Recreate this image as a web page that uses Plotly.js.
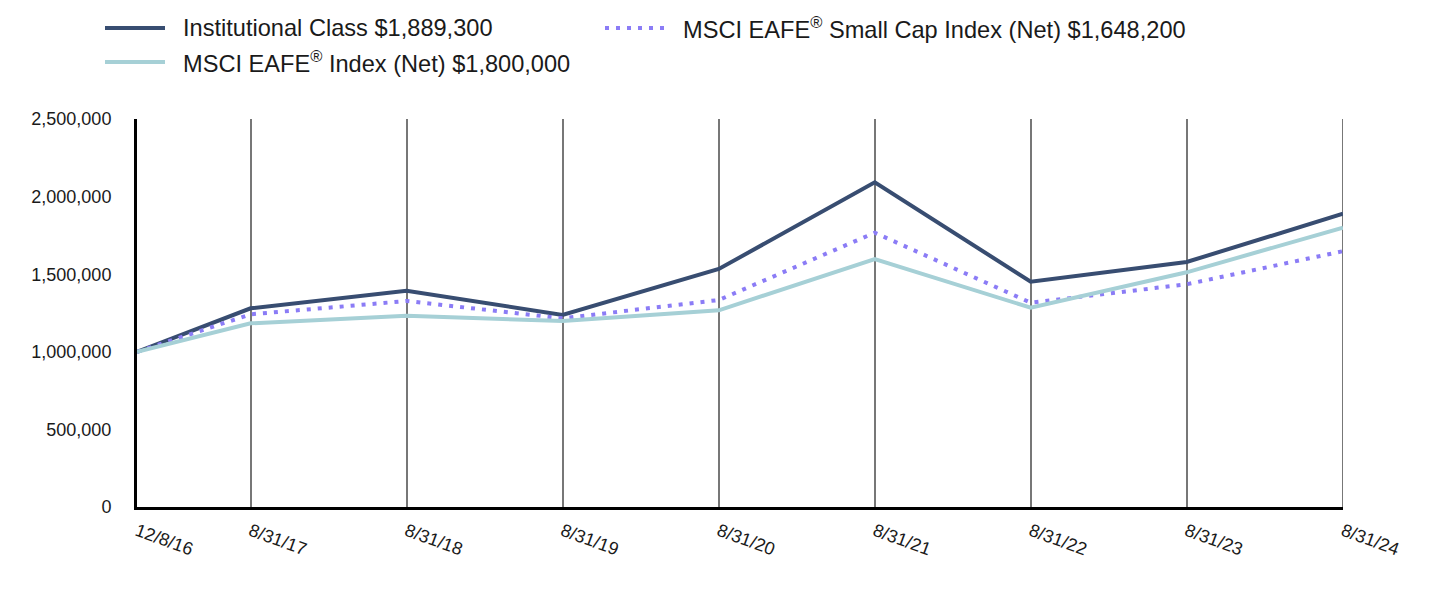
<!DOCTYPE html>
<html>
<head>
<meta charset="utf-8">
<script src="https://cdn.plot.ly/plotly-3.0.1.min.js"></script>
<style>html,body{margin:0;padding:0;background:#fff;}#chart{width:1432px;height:596px;}</style>
</head>
<body>
<div id="chart"></div>
<script>
var dates = ['2016-12-08','2017-08-31','2018-08-31','2019-08-31','2020-08-31','2021-08-31','2022-08-31','2023-08-31','2024-08-31'];
var tickLabels = ['12/8/16','8/31/17','8/31/18','8/31/19','8/31/20','8/31/21','8/31/22','8/31/23','8/31/24'];
var institutional = [1000000,1280300,1393700,1237100,1533500,2092100,1451700,1578600,1889300];
var smallCapIndex = [1000000,1241600,1327300,1215800,1333800,1767400,1316400,1434900,1648200];
var eafeIndex = [1000000,1183600,1232600,1198500,1267400,1597900,1284200,1512200,1800000];
var seriesNames = ['Institutional Class $1,889,300','MSCI EAFE<sup>®</sup> Small Cap Index (Net) $1,648,200','MSCI EAFE<sup>®</sup> Index (Net) $1,800,000'];
var seriesColors = ['#384d71','#8b7cf6','#a6d0d6'];
var seriesDash = ['solid','4px,7px','solid'];
var yTicks = [0,500000,1000000,1500000,2000000,2500000];

var FONT = 'Liberation Sans, Arial, sans-serif';
var W = 1432, H = 596, M = {l: 137, r: 89, t: 119, b: 89};
var PW = W - M.l - M.r, PH = H - M.t - M.b;
function px2x(px) { return (px - M.l) / PW; }
function py2y(py) { return (H - M.b - py) / PH; }

var seriesValues = [institutional, smallCapIndex, eafeIndex];
var traces = seriesValues.map(function (vals, i) {
  return {x: dates, y: vals, name: seriesNames[i], type: 'scatter', mode: 'lines',
    line: {color: seriesColors[i], width: 4, dash: seriesDash[i]}, showlegend: false};
});

// manual legend: [series index, line start px, row centre px]
var legendSlots = [[0, 105, 28], [1, 605, 28], [2, 105, 62]];
var shapes = [];
var annotations = [];
legendSlots.forEach(function (s) {
  var i = s[0], lx = s[1], ly = s[2];
  shapes.push({type: 'line', xref: 'paper', yref: 'paper',
    x0: px2x(lx), x1: px2x(lx + 60), y0: py2y(ly), y1: py2y(ly),
    line: {color: seriesColors[i], width: 4, dash: seriesDash[i]}});
  annotations.push({xref: 'paper', yref: 'paper', x: px2x(lx + 76), y: py2y(ly),
    xanchor: 'left', yanchor: 'middle', showarrow: false, text: seriesNames[i],
    font: {family: FONT, size: 23.6, color: '#1a1a1a'}});
});
// closing gridline at the last date
shapes.push({type: 'line', xref: 'x', yref: 'paper', x0: dates[dates.length-1], x1: dates[dates.length-1],
  y0: 0, y1: 1, line: {color: '#777', width: 2}, layer: 'below'});

var layout = {
  width: W, height: H,
  margin: M,
  paper_bgcolor: '#fff', plot_bgcolor: '#fff',
  font: {family: FONT, color: '#1a1a1a'},
  showlegend: false,
  shapes: shapes,
  annotations: annotations,
  xaxis: {
    type: 'date', range: [dates[0], dates[dates.length-1]],
    tickmode: 'array', tickvals: dates, ticktext: tickLabels,
    tickangle: 20, tickfont: {family: FONT, size: 18, color: '#1a1a1a'},
    showgrid: true, gridcolor: '#777', gridwidth: 2,
    showline: true, linecolor: '#000', linewidth: 3,
    ticks: '', ticklabelstandoff: 4, zeroline: false, fixedrange: true
  },
  yaxis: {
    range: [0, 2500000], tickmode: 'array', tickvals: yTicks, tickformat: ',d',
    tickfont: {family: FONT, size: 18, color: '#1a1a1a'},
    showgrid: false, showline: true, linecolor: '#000', linewidth: 3,
    ticks: '', ticklabelstandoff: 19, zeroline: false, fixedrange: true
  }
};

Plotly.newPlot('chart', traces, layout, {displayModeBar: false, staticPlot: true});
</script>
</body>
</html>
